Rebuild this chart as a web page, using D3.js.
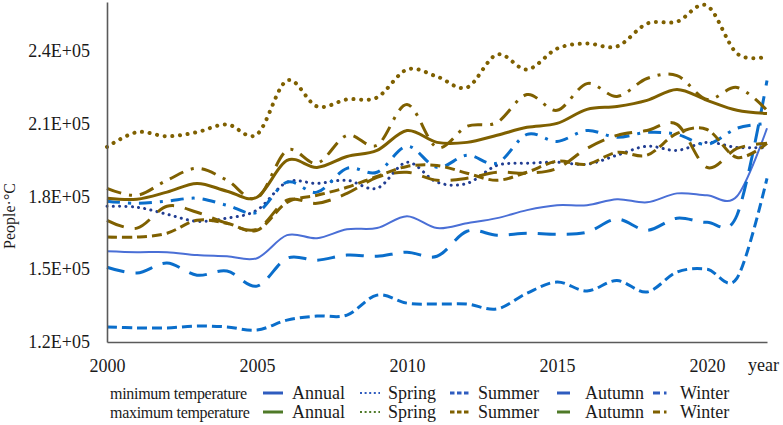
<!DOCTYPE html>
<html><head><meta charset="utf-8">
<script src="https://cdn.jsdelivr.net/npm/d3@7"></script>
<style>
body{margin:0;background:#fff}
svg{display:block;background:#fff}
text{font-family:"Liberation Serif","Times New Roman",serif;fill:#1a1a1a}
</style>
</head><body>
<svg id="chart" width="783" height="425"></svg>
<script>
// ---- data (People·°C) ----
const years = [2000,2001,2002,2003,2004,2005,2006,2007,2008,2009,2010,2011,2012,2013,2014,2015,2016,2017,2018,2019,2020,2021,2022];
const xTickYears = [2000,2005,2010,2015,2020];
const yTicks = [120000,150000,180000,210000,240000];
const seasons = ["Annual","Spring","Summer","Autumn","Winter"];
const groups = ["minimum temperature","maximum temperature"];

const minAnnual = [157400,157000,157000,155800,155300,154500,164000,162700,166400,166900,171800,166900,168900,171000,174300,176300,176300,178800,177500,181200,180400,180000,208000];
const minSpring = [175900,175500,172600,169700,171000,174300,185800,185300,186600,183300,194000,185800,185300,192700,193600,194000,193200,196900,200600,198900,202200,200100,200100];
const minSummer = [126200,125800,125800,126600,126200,124900,129000,130700,131100,139300,136000,135600,135600,133600,140100,144700,141000,145300,140600,148800,150000,146300,187400];
const minAutumn = [150800,148400,152500,147500,149200,143000,154500,153700,155800,155300,157000,155300,165600,164000,164800,164400,165200,170600,166000,171000,169300,172200,227700];
const minWinter = [178000,177100,178000,179200,176300,173400,185800,181700,191500,189900,200600,191900,196900,193600,205500,202600,207100,204300,206300,205500,201400,208000,210000];

const maxAnnual = [179200,178800,181700,185300,182100,179600,194800,191900,196400,198900,207100,202200,202200,205100,208400,210000,215800,217000,219500,224000,219500,215400,214100];
const maxSpring = [200300,206400,204700,206400,209600,205500,227700,217000,219900,220700,232200,229300,224800,238400,232200,240800,242900,241700,251100,251900,258500,238800,237500];
const maxSummer = [163200,163200,164800,170100,168900,166000,177500,180400,183700,188200,192300,192700,189500,186600,189900,194400,193200,198100,196900,205900,207500,196000,201800];
const maxAutumn = [170100,166900,175900,173400,168900,166400,178400,177100,181200,187800,189900,186600,187400,189900,189500,191500,199700,205100,207100,209600,191900,199700,201800];
const maxWinter = [183300,180400,186600,191500,186600,179200,198900,193600,205100,201000,217800,200100,208800,210400,221900,215400,226400,221100,228500,229700,219900,224800,215400];

// ---- styles ----
const BROWN = "#7f6000", BLUE = "#0a6ecb", NAVY = "#213d92", LBLUE = "#4a6fd6";
const styles = {
  minAnnual:{color:LBLUE, w:2,   dash:null,        cap:"butt"},
  minSpring:{color:NAVY,  w:3,   dash:"0.1,6.2",   cap:"round"},
  minSummer:{color:BLUE,  w:3,   dash:"10,5",      cap:"butt"},
  minAutumn:{color:BLUE,  w:3,   dash:"18,11",     cap:"butt"},
  minWinter:{color:BLUE,  w:3,   dash:"13,8,3,8",  cap:"butt"},
  maxAnnual:{color:BROWN, w:3,   dash:null,        cap:"butt"},
  maxSpring:{color:BROWN, w:4,   dash:"0.1,7.6",   cap:"round"},
  maxSummer:{color:BROWN, w:3,   dash:"10,5",      cap:"butt"},
  maxAutumn:{color:BROWN, w:3,   dash:"18,11",     cap:"butt"},
  maxWinter:{color:BROWN, w:3,   dash:"15,8,3,8",  cap:"butt"}
};
const seriesList = [
  ["minAnnual",minAnnual],["minSpring",minSpring],["minSummer",minSummer],["minAutumn",minAutumn],["minWinter",minWinter],
  ["maxAnnual",maxAnnual],["maxSpring",maxSpring],["maxSummer",maxSummer],["maxAutumn",maxAutumn],["maxWinter",maxWinter]
];

const svg = d3.select("#chart");
const x = d3.scaleLinear().domain([2000,2022]).range([107,767]);
const y = d3.scaleLinear().domain([120000,260000]).range([342,2]);

const line = d3.line().x((d,i)=>x(years[i])).y(d=>y(d)).curve(d3.curveCardinal.tension(0));

const plot = svg.append("g");
seriesList.forEach(([key,vals])=>{
  const s = styles[key];
  plot.append("path").datum(vals)
    .attr("d",line).attr("fill","none")
    .attr("stroke",s.color).attr("stroke-width",s.w)
    .attr("stroke-dasharray",s.dash).attr("stroke-linecap",s.cap)
    .attr("stroke-linejoin","round");
});

// axes
const fmt = v => (v/100000).toFixed(1)+"E+05";
const yAxis = svg.append("g").attr("transform","translate(107,0)")
  .call(d3.axisLeft(y).tickValues(yTicks).tickSize(0).tickPadding(17).tickFormat(fmt));
const xAxis = svg.append("g").attr("transform","translate(0,342)")
  .call(d3.axisBottom(x).tickValues(xTickYears).tickSize(0).tickPadding(17).tickFormat(d3.format("d")));
[yAxis,xAxis].forEach(a=>{
  a.select(".domain").attr("stroke","#5a5a5a").attr("stroke-width",1.6);
  a.selectAll("text").attr("font-size",18).attr("font-family","Liberation Serif, Times New Roman, serif").attr("fill","#1a1a1a");
});

svg.append("text").attr("x",748).attr("y",371).attr("font-size",18).text("year");
svg.append("text").attr("transform","translate(15,216) rotate(-90)")
  .attr("text-anchor","middle").attr("font-size",16).text("People·°C");

// legend
const legY = [393, 412];
const sampleX = [[263,283],[360,380],[450,470],[557,570],[653,668]];
const labelX = [292,388,478,585,680];
const legColors = [
  ["#2f5cbf","#2f5cbf","#2f5cbf","#2f5cbf","#2f5cbf"],
  ["#4f7a28","#4f7a28",BROWN,"#4f7a28",BROWN]
];
const legDash = [null,"2,2.6","4.5,2.5",null,"7,4,2.5"];
groups.forEach((g,r)=>{
  svg.append("text").attr("x",110).attr("y",legY[r]).attr("dy","0.35em")
    .attr("font-size",16).attr("letter-spacing","-0.3px").text(g);
  seasons.forEach((s,i)=>{
    svg.append("line").attr("x1",sampleX[i][0]).attr("x2",sampleX[i][1])
      .attr("y1",legY[r]).attr("y2",legY[r])
      .attr("stroke",legColors[r][i]).attr("stroke-width",i===1?2.2:3)
      .attr("stroke-dasharray",legDash[i]);
    svg.append("text").attr("x",labelX[i]).attr("y",legY[r]).attr("dy","0.35em")
      .attr("font-size",18).text(s);
  });
});
</script>
</body></html>
